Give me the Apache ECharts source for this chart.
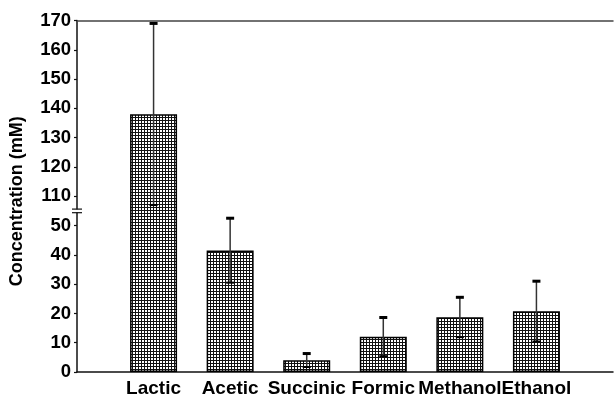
<!DOCTYPE html>
<html>
<head>
<meta charset="utf-8">
<script src="https://cdn.jsdelivr.net/npm/echarts@6/dist/echarts.min.js"></script>
<style>
  html, body { margin: 0; padding: 0; background: #fff; }
  #chart { width: 616px; height: 398px; }
</style>
</head>
<body>
<div id="chart"></div>
<script>
// ---- data ----
const categories = ['Lactic', 'Acetic', 'Succinic', 'Formic', 'Methanol', 'Ethanol'];
const meanValues = [138, 41.5, 4, 12, 18.7, 20.7];
const errorValues = [31, 11, 2.3, 6.6, 6.8, 10.3];
const yTickLabels = [0, 10, 20, 30, 40, 50, 110, 120, 130, 140, 150, 160, 170];
// broken axis: values above `below` are drawn shifted down by `shift`
const axisBreak = { below: 55, shift: 50 };

function toAxis(v) { return v > axisBreak.below ? v - axisBreak.shift : v; }
function fromAxis(v) { return v > axisBreak.below ? v + axisBreak.shift : v; }

// ---- pattern ----
const pc = document.createElement('canvas');
pc.width = 3; pc.height = 3;
const pctx = pc.getContext('2d');
pctx.fillStyle = '#fff'; pctx.fillRect(0, 0, 3, 3);
pctx.fillStyle = '#111'; pctx.fillRect(0, 0, 3, 1); pctx.fillRect(0, 0, 1, 3);

const axisCats = [''].concat(categories, ['']);
const barData = [null].concat(meanValues.map(toAxis), [null]);
const errData = meanValues.map((m, i) => [i + 1, toAxis(m - errorValues[i]), toAxis(m + errorValues[i])]);

const FONT = 'Liberation Sans, Arial, sans-serif';
const chart = echarts.init(document.getElementById('chart'), null, { renderer: 'canvas' });

chart.setOption({
  animation: false,
  backgroundColor: '#fff',
  grid: { left: 77, top: 20.5, width: 542, height: 351.5 },
  xAxis: [{
    type: 'category',
    data: axisCats,
    boundaryGap: false,
    axisLine: { show: true, lineStyle: { color: '#111', width: 1.5 } },
    axisTick: { show: false },
    axisLabel: { interval: 0, color: '#000', fontFamily: FONT, fontWeight: 'bold', fontSize: 19, margin: 7 },
    splitLine: { show: false }
  }, {
    type: 'category',
    data: axisCats,
    boundaryGap: false,
    position: 'top',
    axisLine: { show: true, lineStyle: { color: '#444', width: 1.5 } },
    axisTick: { show: false },
    axisLabel: { show: false },
    splitLine: { show: false }
  }],
  yAxis: {
    type: 'value',
    min: 0,
    max: toAxis(yTickLabels[yTickLabels.length - 1]),
    interval: 10,
    name: 'Concentration (mM)',
    nameLocation: 'middle',
    nameRotate: 90,
    nameGap: 51,
    nameTextStyle: { color: '#000', fontFamily: FONT, fontWeight: 'bold', fontSize: 18, padding: [0, 10, 0, 0] },
    axisLine: { show: true, lineStyle: { color: '#111', width: 1.5 } },
    axisTick: { show: true, inside: false, length: 3, customValues: yTickLabels.map(toAxis), lineStyle: { color: '#111', width: 1.2 } },
    axisLabel: {
      color: '#000', fontFamily: FONT, fontWeight: 'bold', fontSize: 18.5, margin: 6,
      customValues: yTickLabels.map(toAxis),
      formatter: v => String(Math.round(fromAxis(v)))
    },
    splitLine: { show: false }
  },
  series: [{
    type: 'bar',
    data: barData,
    barWidth: 47,
    itemStyle: { color: { image: pc, repeat: 'repeat' }, borderColor: '#000', borderWidth: 1.5 },
    z: 2
  }, {
    type: 'custom',
    data: errData,
    encode: { x: 0, y: [1, 2] },
    z: 3,
    renderItem: function (params, api) {
      const x = api.value(0);
      const lo = api.coord([x, api.value(1)]);
      const hi = api.coord([x, api.value(2)]);
      return {
        type: 'group',
        children: [
          { type: 'line', shape: { x1: lo[0], y1: lo[1], x2: hi[0], y2: hi[1] }, style: { stroke: '#333', lineWidth: 1.5 } },
          { type: 'rect', shape: { x: hi[0] - 4, y: hi[1] - 1.5, width: 8, height: 3 }, style: { fill: '#000' } },
          { type: 'rect', shape: { x: lo[0] - 4, y: lo[1] - 1, width: 8, height: 2 }, style: { fill: '#000' } }
        ]
      };
    }
  }]
});

// axis break marks
const by = chart.convertToPixel({ yAxisIndex: 0 }, axisBreak.below);
const bx = chart.convertToPixel({ xAxisIndex: 0 }, 0);
chart.setOption({
  graphic: [
    { type: 'rect', shape: { x: bx - 2, y: by - 1.5, width: 4, height: 3 }, style: { fill: '#fff' }, z: 100 },
    { type: 'line', shape: { x1: bx - 5, y1: by - 1.8, x2: bx + 5, y2: by - 1.8 }, style: { stroke: '#111', lineWidth: 1.2 }, z: 101 },
    { type: 'line', shape: { x1: bx - 5, y1: by + 1.8, x2: bx + 5, y2: by + 1.8 }, style: { stroke: '#111', lineWidth: 1.2 }, z: 101 }
  ]
});
</script>
</body>
</html>
